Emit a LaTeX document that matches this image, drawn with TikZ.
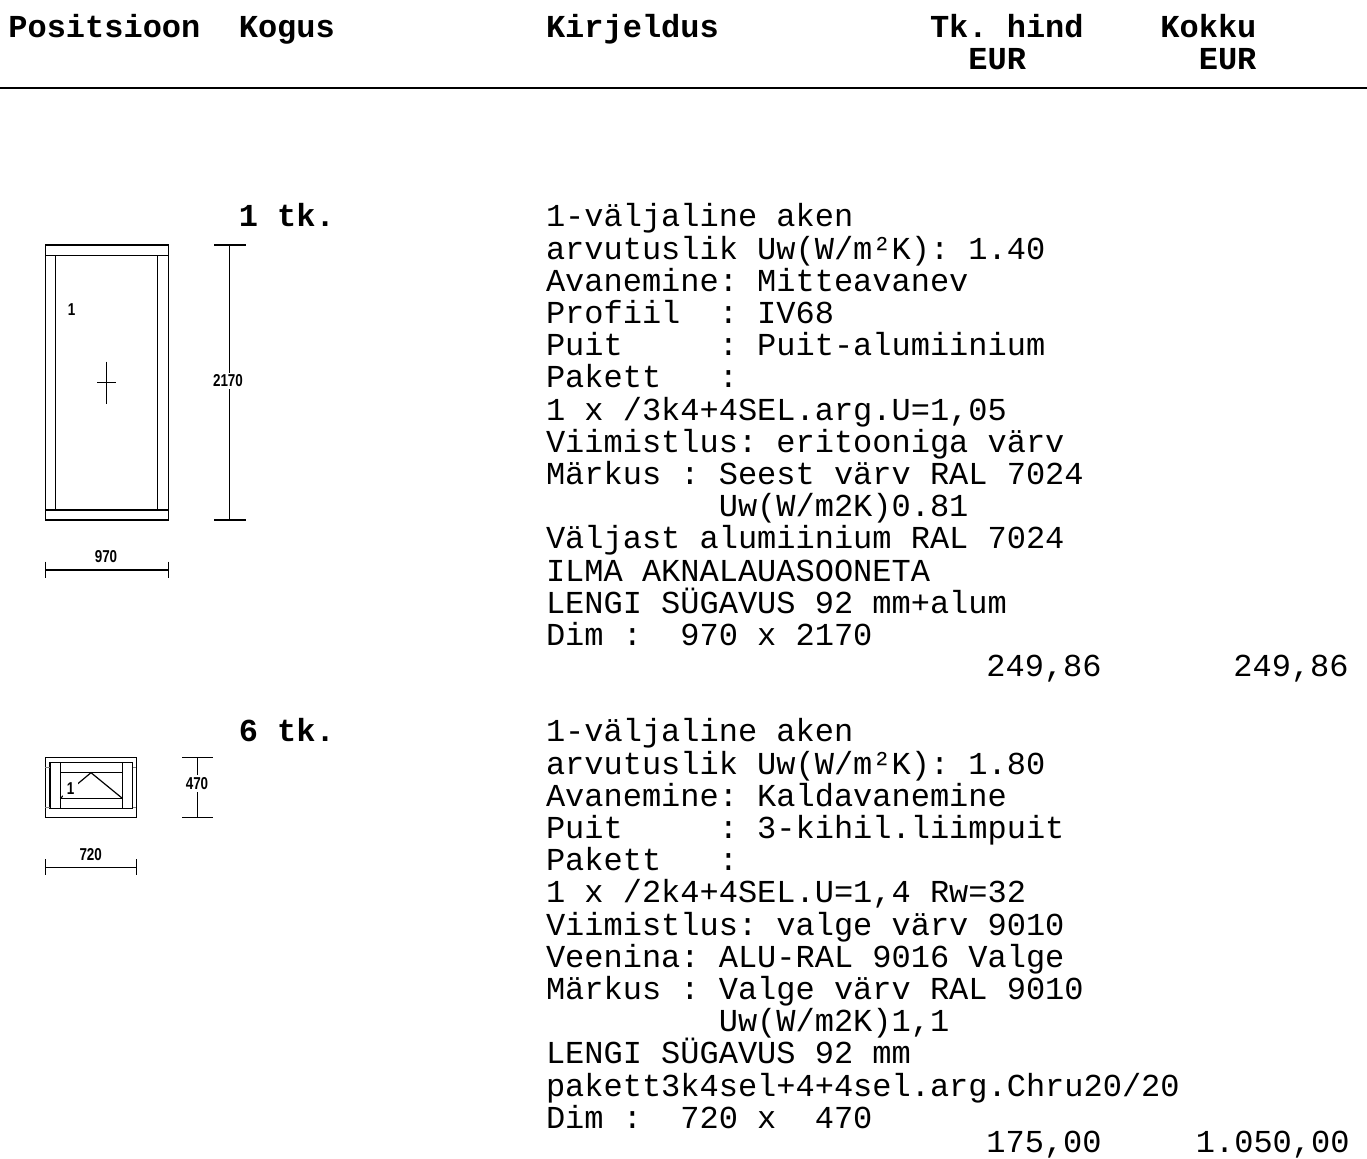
\documentclass[tikz,border=0pt]{standalone}
\usepackage{fontspec}
\newfontfamily\mono{Liberation Mono}
\newfontfamily\dimfont{Liberation Sans}
\usetikzlibrary{positioning}

\tikzset{
  txt/.style={anchor=base west, inner sep=0pt, font=\mono\fontsize{16}{16}\selectfont\frenchspacing},
  hdr/.style={txt, font=\mono\bfseries\fontsize{16}{16}\selectfont\frenchspacing},
  frm/.style={line width=0.6pt},
  dimlbl/.style={fill=white, inner sep=1.2pt, font=\dimfont\bfseries\fontsize{8.6}{9}\selectfont}
}
\newcommand{\narrow}[1]{\scalebox{0.78}[1]{#1}}

\begin{document}
\begin{tikzpicture}[x=0.5pt,y=-0.5pt]
\useasboundingbox (0,0) rectangle (1367,1159);

% header
\node[hdr] (hpos) at (8,37.5) {Positsioon};
\node[hdr] (hkog) at (238.4,37.5) {Kogus};
\node[hdr] (hkir) at (545.6,37.5) {Kirjeldus};
\node[hdr] (htk) at (929.6,37.5) {Tk.~hind};
\node[hdr] (hkok) at (1160,37.5) {Kokku};
\node[hdr] (heur1) at (968,69.5) {EUR};
\node[hdr] (heur2) at (1198.4,69.5) {EUR};
\draw[line width=0.8pt] (0,88) -- (1367,88);

% position 1
\node[hdr] (q1) at (238.4,227) {1~tk.};
\foreach \t [count=\n from 0] in {
  {1-väljaline aken},
  {arvutuslik Uw(W/m²K): 1.40},
  {Avanemine: Mitteavanev},
  {Profiil~~:~IV68},
  {Puit~~~~~:~Puit-alumiinium},
  {Pakett~~~:},
  {1 x /3k4+4SEL.arg.U=1,05},
  {Viimistlus: eritooniga värv},
  {Märkus : Seest värv RAL 7024},
  {~~~~~~~~~Uw(W/m2K)0.81},
  {Väljast alumiinium RAL 7024},
  {ILMA AKNALAUASOONETA},
  {LENGI SÜGAVUS 92 mm+alum},
  {Dim~:~~970~x~2170}}
  \node[txt] (a\n) at (545.6,227+\n*32.2) {\t};
\node[txt] (p1) at (986,677) {249,86};
\node[txt] (s1) at (1233,677) {249,86};

% window 1
\draw[frm] (45.3,245) rectangle (168.3,520);
\draw[frm] (45.3,255.3) -- (168.3,255.3) (45.3,510) -- (168.3,510);
\draw[frm] (55.7,255.3) -- (55.7,510) (157.7,255.3) -- (157.7,510);
\draw[frm] (106.7,361.7) -- (106.7,404) (97.3,382.7) -- (116,382.7);
\node[dimlbl, fill=none] (w1) at (71.7,310) {\narrow{1}};
\draw[frm] (229.3,245) -- (229.3,520) (214,245) -- (245.7,245) (214,520) -- (245.7,520);
\node[dimlbl] (h1) at (228,381) {\narrow{2170}};
\draw[frm] (45.3,570) -- (168.3,570) (45.3,561.7) -- (45.3,578.3) (168.3,561.7) -- (168.3,578.3);
\node[dimlbl, fill=none] (b1) at (106,556.7) {\narrow{970}};

% position 2
\node[hdr] (q2) at (238.4,742) {6~tk.};
\foreach \t [count=\n from 0] in {
  {1-väljaline aken},
  {arvutuslik Uw(W/m²K): 1.80},
  {Avanemine: Kaldavanemine},
  {Puit~~~~~:~3-kihil.liimpuit},
  {Pakett~~~:},
  {1 x /2k4+4SEL.U=1,4 Rw=32},
  {Viimistlus: valge värv 9010},
  {Veenina: ALU-RAL 9016 Valge},
  {Märkus : Valge värv RAL 9010},
  {~~~~~~~~~Uw(W/m2K)1,1},
  {LENGI SÜGAVUS 92 mm},
  {pakett3k4sel+4+4sel.arg.Chru20/20},
  {Dim~:~~720~x~~470}}
  \node[txt] (c\n) at (545.6,742+\n*32.2) {\t};
\node[txt] (p2) at (986,1153) {175,00};
\node[txt] (s2) at (1195.5,1153) {1.050,00};

% window 2
\draw[frm] (45.3,757.3) rectangle (136.3,817.3);
\draw[frm] (50,762.3) rectangle (132.7,808.3);
\draw[frm, gray] (45.3,767.7) -- (50,767.7) (45.3,807.3) -- (50,807.3)
  (132.7,767.7) -- (136.3,767.7) (132.7,807.3) -- (136.3,807.3);
\draw[frm] (60.3,762.3) -- (60.3,808.3) (122.3,762.3) -- (122.3,808.3);
\draw[frm] (60.3,772.7) -- (122.3,772.7) (60.3,798.3) -- (122.3,798.3);
\draw[frm] (60.3,798.3) -- (91,772.7) -- (122.3,798.3);
\node[dimlbl, inner sep=2pt] (w2) at (70.7,788.3) {\narrow{1}};
\draw[frm] (197.7,757.3) -- (197.7,817.3) (182.3,757.3) -- (213.3,757.3) (182.3,817.3) -- (213.3,817.3);
\node[dimlbl] (h2) at (197,783.3) {\narrow{470}};
\draw[frm] (45.3,867.3) -- (136.3,867.3) (45.3,859.3) -- (45.3,875.3) (136.3,859.3) -- (136.3,875.3);
\node[dimlbl, fill=none] (b2) at (90.7,855) {\narrow{720}};

\end{tikzpicture}
\end{document}
